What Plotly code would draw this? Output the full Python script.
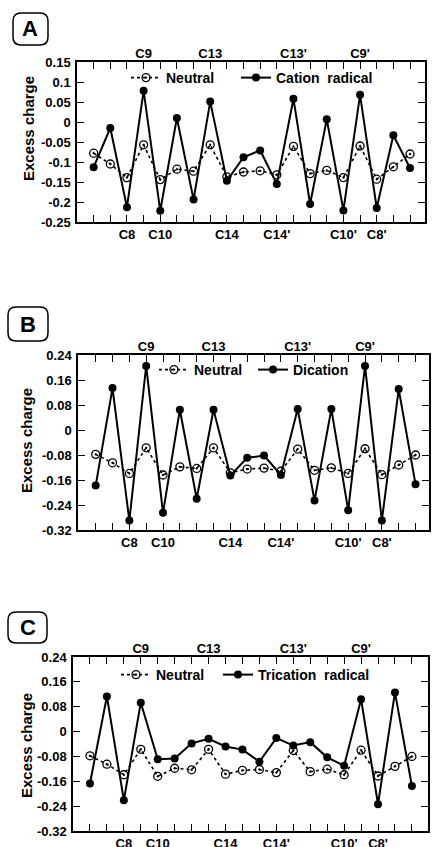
import plotly.graph_objects as go

W, H = 432, 847

# ---------------- data ----------------
POS = list(range(1, 21))  # 20 carbon positions along the chain
TOP_LABELS = ["", "", "", "C9", "", "", "", "C13", "", "", "", "", "C13'", "", "", "", "C9'", "", "", ""]
BOTTOM_LABELS = ["", "", "C8", "", "C10", "", "", "", "C14", "", "", "C14'", "", "", "", "C10'", "", "C8'", "", ""]

NEUTRAL = [-0.078, -0.105, -0.139, -0.057, -0.144, -0.118, -0.123, -0.057, -0.137, -0.125,
           -0.122, -0.132, -0.061, -0.129, -0.121, -0.139, -0.060, -0.143, -0.112, -0.080]

CATION_RADICAL = [-0.113, -0.015, -0.213, 0.078, -0.222, 0.010, -0.194, 0.051, -0.147, -0.088,
                  -0.071, -0.155, 0.058, -0.205, 0.007, -0.221, 0.068, -0.215, -0.033, -0.115]

DICATION = [-0.178, 0.134, -0.290, 0.205, -0.265, 0.065, -0.220, 0.065, -0.146, -0.089,
            -0.082, -0.144, 0.067, -0.226, 0.067, -0.257, 0.205, -0.290, 0.131, -0.174]

TRICATION_RADICAL = [-0.167, 0.113, -0.221, 0.093, -0.089, -0.087, -0.038, -0.023, -0.048, -0.058,
                     -0.097, -0.021, -0.045, -0.034, -0.083, -0.110, 0.104, -0.234, 0.126, -0.175]

Y_TICKS_A = [0.15, 0.1, 0.05, 0, -0.05, -0.1, -0.15, -0.2, -0.25]
Y_TEXT_A = ["0.15", "0.1", "0.05", "0", "-0.05", "-0.1", "-0.15", "-0.2", "-0.25"]
Y_TICKS_BC = [0.24, 0.16, 0.08, 0, -0.08, -0.16, -0.24, -0.32]
Y_TEXT_BC = ["0.24", "0.16", "0.08", "0", "-0.08", "-0.16", "-0.24", "-0.32"]

PANELS = [
    dict(letter="A", name="Cation  radical", ion=CATION_RADICAL, yr=[-0.25, 0.15],
         yt=Y_TICKS_A, ytt=Y_TEXT_A, px=(77, 425), py=(62, 222), xr=[0.0, 20.9],
         box=(13, 13, 48, 45), title_y=129, title_x=28, leg=(126, 236, 78)),
    dict(letter="B", name="Dication", ion=DICATION, yr=[-0.32, 0.24],
         yt=Y_TICKS_BC, ytt=Y_TEXT_BC, px=(78, 429), py=(355, 530), xr=[-0.05, 20.8],
         box=(8, 307, 48, 341), title_y=441, title_x=26, leg=(154, 253, 370)),
    dict(letter="C", name="Trication  radical", ion=TRICATION_RADICAL, yr=[-0.32, 0.24],
         yt=Y_TICKS_BC, ytt=Y_TEXT_BC, px=(73, 428), py=(657, 831), xr=[0.0, 20.95],
         box=(8, 612, 47, 643), title_y=746, title_x=26, leg=(116, 218, 675)),
]

FONT = "Liberation Sans, Arial, Helvetica, sans-serif"


def fx(x):
    return x / W


def fy(y):
    return 1 - y / H


fig = go.Figure()
layout = dict(
    width=W, height=H, margin=dict(l=0, r=0, t=0, b=0, autoexpand=False),
    paper_bgcolor="white", plot_bgcolor="white",
    font=dict(family=FONT, color="black", size=13, weight="bold"),
    showlegend=True,
)
annotations = []
shapes = []

for i, p in enumerate(PANELS, start=1):
    xa = f"x{i}" if i > 1 else "x"
    ya = f"y{i}" if i > 1 else "y"
    xt = f"x{i + 3}"
    leg_n = "legend" if i == 1 else f"legend{2 * i - 1}"
    leg_c = f"legend{2 * i}"

    fig.add_trace(go.Scatter(
        x=POS, y=NEUTRAL, xaxis=xa, yaxis=ya, name="Neutral", legend=leg_n,
        mode="lines+markers",
        line=dict(color="black", width=1.6, dash="dot"),
        marker=dict(symbol="circle-open-dot", size=8, color="black", line=dict(width=1.3, color="black")),
    ))
    fig.add_trace(go.Scatter(
        x=POS, y=p["ion"], xaxis=xa, yaxis=ya, name=p["name"], legend=leg_c,
        mode="lines+markers",
        line=dict(color="black", width=2),
        marker=dict(symbol="circle", size=8, color="black"),
    ))
    # invisible trace so the top label axis is drawn
    fig.add_trace(go.Scatter(
        x=POS, y=NEUTRAL, xaxis=xt, yaxis=ya, mode="lines", line=dict(width=0),
        opacity=0, showlegend=False, hoverinfo="skip",
    ))

    dom_x = [fx(p["px"][0]), fx(p["px"][1])]
    dom_y = [fy(p["py"][1]), fy(p["py"][0])]
    axis_common = dict(showgrid=False, zeroline=False, showline=True, linecolor="black",
                       linewidth=1.5, ticks="inside", ticklen=7, tickwidth=1.3, tickcolor="black",
                       automargin=False)
    layout["xaxis" if i == 1 else f"xaxis{i}"] = dict(
        domain=dom_x, range=p["xr"], anchor=ya, mirror="ticks",
        tickmode="array", tickvals=POS, ticktext=BOTTOM_LABELS,
        tickfont=dict(size=13, family=FONT, weight="bold"), **axis_common)
    layout[f"xaxis{i + 3}"] = dict(
        domain=dom_x, range=p["xr"], anchor=ya, overlaying=xa, side="top",
        tickmode="array", tickvals=POS, ticktext=TOP_LABELS, ticks="",
        showline=False, showgrid=False, zeroline=False, automargin=False,
        tickfont=dict(size=13, family=FONT, weight="bold"))
    layout["yaxis" if i == 1 else f"yaxis{i}"] = dict(
        domain=dom_y, range=p["yr"], anchor=xa, mirror="ticks",
        tickmode="array", tickvals=p["yt"], ticktext=p["ytt"],
        ticklabelstandoff=2,
        tickfont=dict(size=13, family=FONT, weight="bold"), **axis_common)

    for leg, lx in ((leg_n, p["leg"][0]), (leg_c, p["leg"][1])):
        layout[leg] = dict(
            orientation="h", x=fx(lx), y=fy(p["leg"][2]), xanchor="left", yanchor="middle",
            xref="paper", yref="paper", bgcolor="rgba(0,0,0,0)",
            font=dict(size=14, family=FONT, weight="bold", color="black"),
            itemwidth=30,
        )

    annotations.append(dict(
        text="Excess charge", xref="paper", yref="paper", x=fx(p["title_x"]), y=fy(p["title_y"]),
        textangle=-90, showarrow=False, xanchor="center", yanchor="middle",
        font=dict(size=15, family=FONT, weight="bold", color="black")))

    x0, y0, x1, y1 = p["box"]
    r = 8
    path = (f"M {fx(x0 + r)} {fy(y0)} L {fx(x1 - r)} {fy(y0)} Q {fx(x1)} {fy(y0)} {fx(x1)} {fy(y0 + r)} "
            f"L {fx(x1)} {fy(y1 - r)} Q {fx(x1)} {fy(y1)} {fx(x1 - r)} {fy(y1)} "
            f"L {fx(x0 + r)} {fy(y1)} Q {fx(x0)} {fy(y1)} {fx(x0)} {fy(y1 - r)} "
            f"L {fx(x0)} {fy(y0 + r)} Q {fx(x0)} {fy(y0)} {fx(x0 + r)} {fy(y0)} Z")
    shapes.append(dict(type="path", xref="paper", yref="paper", path=path,
                       line=dict(color="black", width=1.5)))
    annotations.append(dict(
        text=p["letter"], xref="paper", yref="paper", x=fx((x0 + x1) / 2), y=fy((y0 + y1) / 2),
        showarrow=False, xanchor="center", yanchor="middle",
        font=dict(size=22, family=FONT, weight="bold", color="black")))

layout["annotations"] = annotations
layout["shapes"] = shapes
fig.update_layout(**layout)

# remove the browser's default 8px page margin so the figure fills the window exactly
fig.write_html("out.html", config={"displayModeBar": False},
               post_script="document.body.style.margin='0';document.body.style.overflow='hidden';")
